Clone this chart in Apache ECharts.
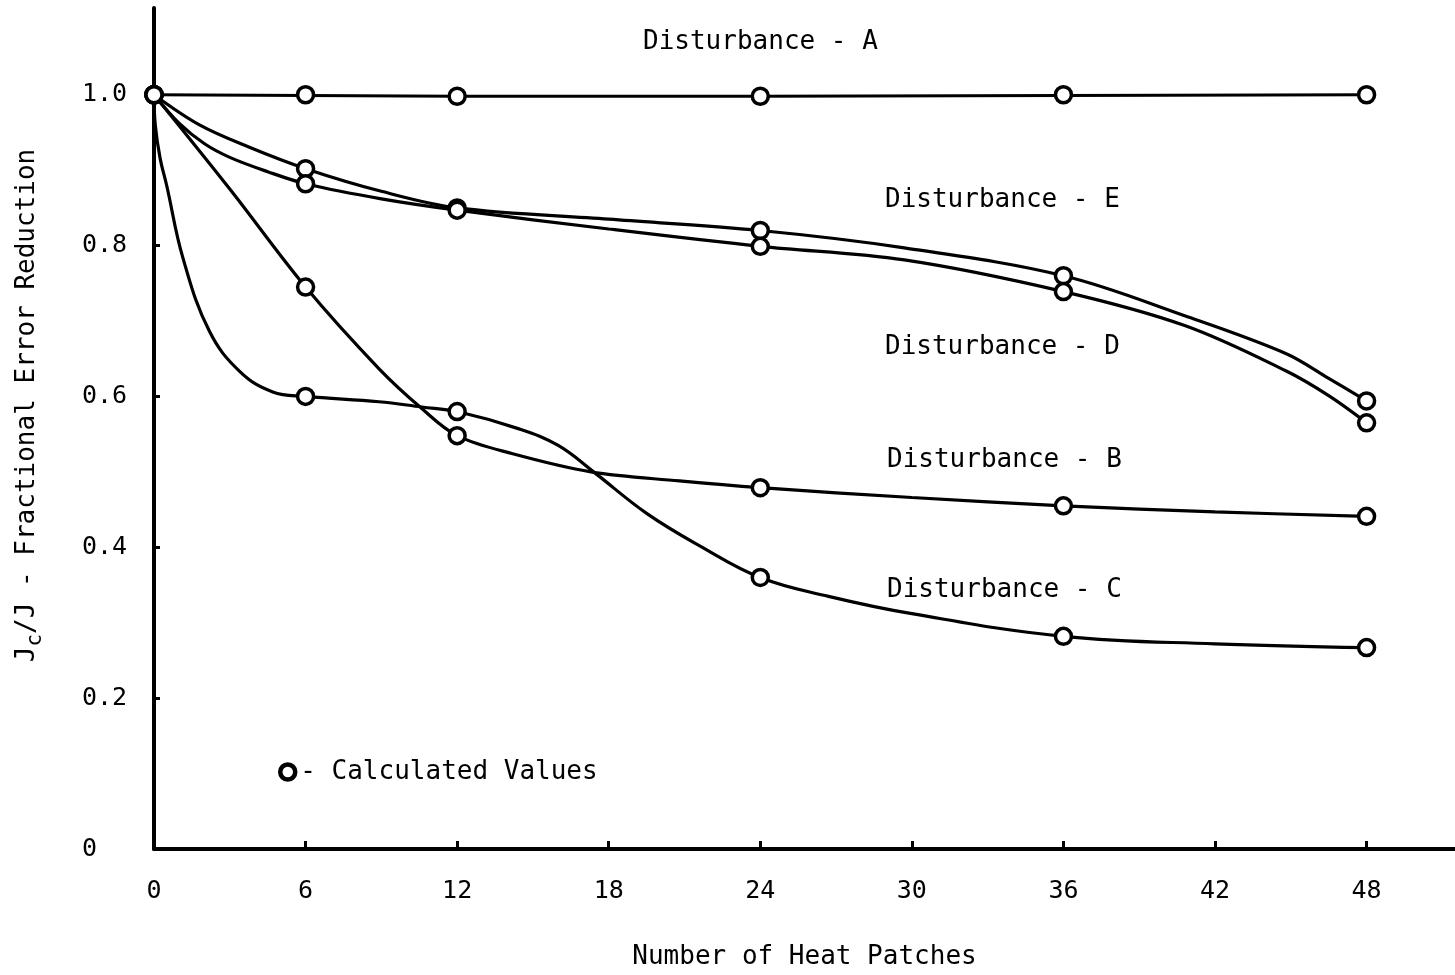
<!DOCTYPE html>
<html>
<head>
<meta charset="utf-8">
<script src="https://cdn.jsdelivr.net/npm/echarts@6/dist/echarts.min.js"></script>
<style>
  html, body { margin: 0; padding: 0; background: #fff; }
  #chart { width: 1455px; height: 975px; }
</style>
</head>
<body>
<div id="chart"></div>
<script>
// x positions of the calculated values (number of heat patches)
const patches = [0, 6, 12, 24, 36, 48];

// calculated values Jc/J, one array per disturbance
const calcA = [1.0, 1.0, 0.998, 0.998, 1.0, 1.0];
const calcE = [1.0, 0.902, 0.850, 0.820, 0.760, 0.594];
const calcD = [1.0, 0.882, 0.847, 0.799, 0.739, 0.565];
const calcB = [1.0, 0.745, 0.548, 0.479, 0.455, 0.441];
const calcC = [1.0, 0.600, 0.580, 0.360, 0.282, 0.267];

// hand drawn curves as [patches, Jc/J]
const curveA = [[0, 1.0], [12, 0.998], [24, 0.998], [48, 1.0]];
const curveE = [[0, 1.0], [1.8, 0.960], [3.8, 0.930], [6, 0.902], [9, 0.872], [12, 0.850], [18, 0.835],
  [24, 0.820], [29.7, 0.797], [36, 0.760], [40.8, 0.707], [44.8, 0.657], [46.5, 0.624], [48, 0.594]];
const curveD = [[0, 1.0], [1, 0.962], [2, 0.935], [3, 0.917], [4.5, 0.898], [6, 0.882], [9, 0.862], [12, 0.847],
  [18, 0.822], [24, 0.799], [29.7, 0.781], [36, 0.739], [40.8, 0.694], [44.8, 0.634], [46.5, 0.601], [48, 0.565]];
const curveB = [[0, 1.0], [3, 0.875], [6, 0.745], [8.9, 0.637], [10.6, 0.584], [12, 0.548], [14.2, 0.524],
  [17.3, 0.500], [20.8, 0.488], [24, 0.479], [30, 0.466], [36, 0.455], [42, 0.447], [48, 0.441]];
const curveC = [[0, 1.0], [0.05, 0.96], [0.24, 0.916], [0.5, 0.88], [1.15, 0.783], [2.2, 0.686], [3.4, 0.633],
  [4.7, 0.606], [6, 0.600], [8.9, 0.593], [10.6, 0.586], [12, 0.580], [14.45, 0.557], [16, 0.535],
  [17.4, 0.500], [19.5, 0.445], [21.6, 0.402], [24, 0.360], [26.7, 0.335],
  [30, 0.312], [36, 0.282], [42, 0.272], [48, 0.267]];

// axis ticks / labels
const xTicks = [0, 6, 12, 18, 24, 30, 36, 42, 48];
const yTicks = [0, 0.2, 0.4, 0.6, 0.8, 1.0];

// labels for each curve
const curveNames = ['Disturbance - A', 'Disturbance - E', 'Disturbance - D', 'Disturbance - B', 'Disturbance - C'];

const FONT = '"DejaVu Sans Mono", "Liberation Mono", monospace';

const calcPoints = [];
[calcA, calcE, calcD, calcB, calcC].forEach(function (arr) {
  arr.forEach(function (v, i) {
    calcPoints.push([patches[i], v]);
  });
});

function curveSeries(name, data, smooth) {
  return {
    name: name,
    type: 'line',
    data: data,
    smooth: smooth,
    symbol: 'none',
    silent: true,
    lineStyle: {color: '#000', width: 3.2},
    z: 2,
  };
}

// label positions in pixels (left edge, middle)
const labelPos = [[643, 42], [885, 200], [885, 347], [887, 460], [887, 590]];

const chart = echarts.init(document.getElementById('chart'));
chart.setOption({
  animation: false,
  backgroundColor: '#fff',
  grid: {left: 154, right: 0, top: 8, bottom: 126, containLabel: false, outerBoundsMode: 'none'},
  legend: {
    left: 273,
    top: 754,
    data: ['Calculated Values'],
    icon: 'circle',
    itemWidth: 15,
    itemHeight: 15,
    selectedMode: false,
    formatter: function () { return '- Calculated Values'; },
    textStyle: {fontFamily: FONT, fontSize: 26, color: '#000'},
    itemStyle: {color: '#fff', borderColor: '#000', borderWidth: 4.5},
  },
  xAxis: {
    type: 'value',
    min: 0,
    max: 51.5,
    name: 'Number of Heat Patches',
    nameLocation: 'middle',
    nameGap: 95,
    nameTextStyle: {fontFamily: FONT, fontSize: 26, color: '#000'},
    splitLine: {show: false},
    axisLine: {show: true, onZero: false, lineStyle: {color: '#000', width: 4}},
    axisTick: {show: true, inside: true, length: 8, customValues: xTicks.slice(1), lineStyle: {color: '#000', width: 3}},
    axisLabel: {
      customValues: xTicks,
      margin: 30,
      fontFamily: FONT,
      fontSize: 25,
      color: '#000',
    },
  },
  yAxis: {
    type: 'value',
    min: 0,
    max: 1.115,
    name: 'J{sub|c}/J - Fractional Error Reduction',
    nameLocation: 'middle',
    nameGap: 108,
    nameRotate: 90,
    nameTextStyle: {
      fontFamily: FONT, fontSize: 26, color: '#000',
      padding: [0, 0, 0, 46],
      rich: {
        sub: {fontFamily: FONT, fontSize: 21, color: '#000', padding: [16, 0, 0, 0], verticalAlign: 'bottom'},
      },
    },
    splitLine: {show: false},
    axisLine: {show: true, lineStyle: {color: '#000', width: 4}},
    axisTick: {show: true, inside: true, length: 6, customValues: yTicks.slice(1), lineStyle: {color: '#000', width: 3}},
    axisLabel: {
      customValues: yTicks,
      margin: 72,
      align: 'left',
      fontFamily: FONT,
      fontSize: 25,
      color: '#000',
      formatter: function (v) { return v === 0 ? '0' : v.toFixed(1); },
    },
  },
  graphic: curveNames.map(function (t, i) {
    return {
      type: 'text',
      x: labelPos[i][0],
      y: labelPos[i][1],
      style: {text: t, font: '26px ' + FONT, fill: '#000', verticalAlign: 'middle'},
      z: 10,
    };
  }),
  series: [
    curveSeries('A', curveA, false),
    curveSeries('E', curveE, 0.35),
    curveSeries('D', curveD, 0.35),
    curveSeries('B', curveB, 0.35),
    curveSeries('C', curveC, 0.4),
    {
      name: 'Calculated Values',
      type: 'scatter',
      data: calcPoints,
      symbol: 'circle',
      symbolSize: 16,
      itemStyle: {color: '#fff', borderColor: '#000', borderWidth: 3.5, opacity: 1},
      z: 5,
    },
  ],
});
</script>
</body>
</html>
